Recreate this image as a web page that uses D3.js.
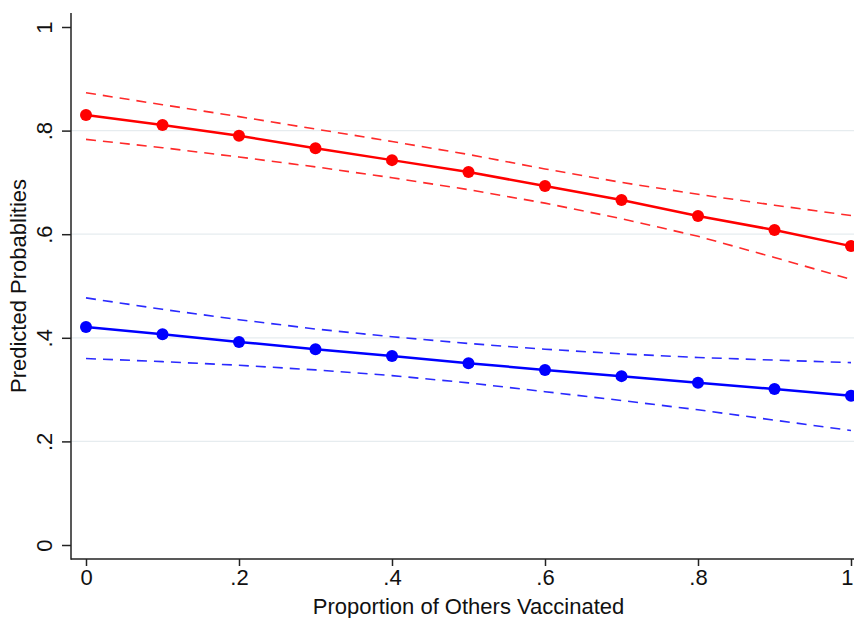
<!DOCTYPE html>
<html>
<head>
<meta charset="utf-8">
<script src="https://cdn.jsdelivr.net/npm/d3@7"></script>
<style>
  html, body { margin: 0; padding: 0; background: #fff; }
  svg { display: block; }
  text { font-family: "Liberation Sans", Arial, Helvetica, sans-serif; fill: #111; }
</style>
</head>
<body>
<svg id="chart" width="854" height="618"></svg>
<script>
// ---- Data ----
const xVals = [0, 0.1, 0.2, 0.3, 0.4, 0.5, 0.6, 0.7, 0.8, 0.9, 1];
const redEst   = [0.830, 0.811, 0.790, 0.766, 0.743, 0.720, 0.693, 0.666, 0.635, 0.608, 0.577];
const redUpper = [0.873, 0.850, 0.827, 0.803, 0.779, 0.754, 0.726, 0.700, 0.677, 0.656, 0.636];
const redLower = [0.783, 0.767, 0.749, 0.730, 0.709, 0.686, 0.660, 0.630, 0.596, 0.555, 0.513];
const blueEst   = [0.421, 0.407, 0.392, 0.378, 0.365, 0.351, 0.338, 0.326, 0.313, 0.301, 0.288];
const blueUpper = [0.477, 0.455, 0.435, 0.417, 0.402, 0.389, 0.378, 0.369, 0.362, 0.357, 0.352];
const blueLower = [0.360, 0.354, 0.347, 0.338, 0.327, 0.313, 0.296, 0.279, 0.261, 0.241, 0.221];
const xTicks = [0, 0.2, 0.4, 0.6, 0.8, 1];
const yTicks = [0, 0.2, 0.4, 0.6, 0.8, 1];
const gridTicks = [0.2, 0.4, 0.6, 0.8];
const xTitle = "Proportion of Others Vaccinated";
const yTitle = "Predicted Probablities";

// ---- Layout ----
const W = 854, H = 618;
const axisX = 71, axisY = 559, plotTop = 13;
const svg = d3.select("#chart");
const x = d3.scaleLinear().domain([0, 1]).range([86, 851]);
const y = d3.scaleLinear().domain([0, 1]).range([545, 27]);
const fmt = d => d === 0 ? "0" : d === 1 ? "1" : d3.format(".1f")(d).replace(/^0/, "");

// gridlines
svg.append("g").selectAll("line").data(gridTicks).join("line")
  .attr("x1", axisX).attr("x2", W)
  .attr("y1", d => y(d)).attr("y2", d => y(d))
  .attr("stroke", "#e6ecef").attr("stroke-width", 1.2);

// y axis
const gy = svg.append("g").attr("transform", `translate(${axisX},0)`)
  .call(d3.axisLeft(y).tickValues(yTicks).tickFormat(fmt).tickSize(9).tickSizeOuter(0));
gy.select(".domain").remove();
gy.selectAll(".tick line").attr("stroke", "#222").attr("stroke-width", 1.5);
gy.selectAll(".tick text")
  .attr("transform", "rotate(-90)")
  .attr("x", 0).attr("y", -19).attr("dy", 0)
  .attr("text-anchor", "middle")
  .style("font-size", "22px").style("font-family", null);

// x axis
const gx = svg.append("g").attr("transform", `translate(0,${axisY})`)
  .call(d3.axisBottom(x).tickValues(xTicks).tickFormat(fmt).tickSize(7).tickSizeOuter(0));
gx.select(".domain").remove();
gx.selectAll(".tick line").attr("stroke", "#222").attr("stroke-width", 1.5);
gx.selectAll(".tick text")
  .attr("y", 26).attr("dy", 0)
  .style("font-size", "22px").style("font-family", null);
// keep the last label inside the picture edge
gx.selectAll(".tick text").filter(d => d === 1)
  .attr("text-anchor", "end").attr("dx", 2);

// axis lines
svg.append("line").attr("x1", axisX).attr("x2", axisX).attr("y1", plotTop).attr("y2", axisY + 0.75)
  .attr("stroke", "#222").attr("stroke-width", 1.5);
svg.append("line").attr("x1", axisX).attr("x2", W).attr("y1", axisY).attr("y2", axisY)
  .attr("stroke", "#222").attr("stroke-width", 1.5);

// titles
svg.append("text").attr("x", (x(0) + x(1)) / 2).attr("y", 614)
  .attr("text-anchor", "middle").style("font-size", "22px").text(xTitle);
svg.append("text").attr("transform", `translate(26,${(y(0) + y(1)) / 2}) rotate(-90)`)
  .attr("text-anchor", "middle").style("font-size", "22px").text(yTitle);

// series
const series = [
  { est: redEst, lo: redLower, hi: redUpper, color: "#ff0000", dash: "#ff2a2a" },
  { est: blueEst, lo: blueLower, hi: blueUpper, color: "#0000ff", dash: "#2a2aff" }
];
const line = d3.line().x(d => x(d[0])).y(d => y(d[1]));
series.forEach(s => {
  const g = svg.append("g");
  [s.hi, s.lo].forEach(arr => {
    g.append("path").datum(xVals.map((v, i) => [v, arr[i]]))
      .attr("d", line).attr("fill", "none")
      .attr("stroke", s.dash).attr("stroke-width", 1.6)
      .attr("stroke-dasharray", "10,7");
  });
  const pts = xVals.map((v, i) => [v, s.est[i]]);
  g.append("path").datum(pts).attr("d", line).attr("fill", "none")
    .attr("stroke", s.color).attr("stroke-width", 2.5);
  g.selectAll("circle").data(pts).join("circle")
    .attr("cx", d => x(d[0])).attr("cy", d => y(d[1])).attr("r", 6)
    .attr("fill", s.color);
});
</script>
</body>
</html>
